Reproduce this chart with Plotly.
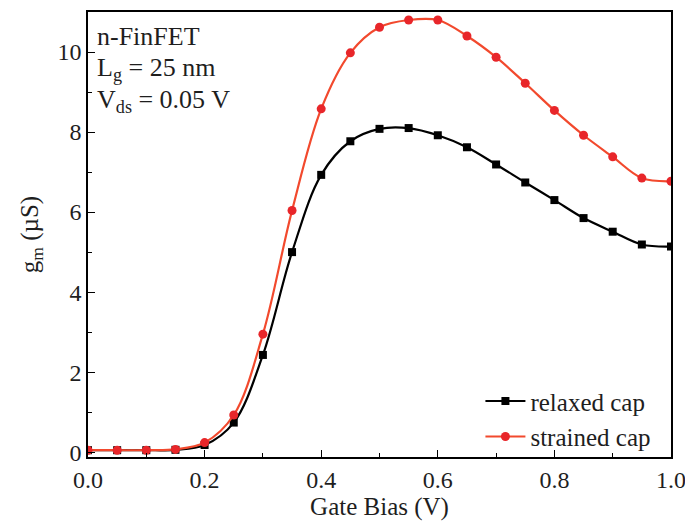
import plotly.graph_objects as go

gate_bias = [0.00, 0.05, 0.10, 0.15, 0.20, 0.25, 0.30, 0.35, 0.40, 0.45, 0.50,
             0.55, 0.60, 0.65, 0.70, 0.75, 0.80, 0.85, 0.90, 0.95, 1.00]
relaxed_gm = [0.05, 0.05, 0.05, 0.06, 0.18, 0.74, 2.43, 5.00, 6.93, 7.77, 8.08,
              8.10, 7.92, 7.62, 7.19, 6.74, 6.30, 5.85, 5.51, 5.19, 5.14]
strained_gm = [0.05, 0.05, 0.05, 0.07, 0.24, 0.93, 2.95, 6.04, 8.58, 9.98, 10.62,
               10.80, 10.80, 10.40, 9.87, 9.22, 8.54, 7.92, 7.38, 6.85, 6.77]

FONT = "Liberation Serif"
TEXT_COLOR = "#1e1e1e"

fig = go.Figure()
fig.add_trace(go.Scatter(
    x=gate_bias, y=relaxed_gm, name="relaxed cap", mode="lines+markers",
    line=dict(color="black", width=2.2, shape="spline", smoothing=1.0),
    marker=dict(symbol="square", size=8, color="black"),
))
fig.add_trace(go.Scatter(
    x=gate_bias, y=strained_gm, name="strained cap", mode="lines+markers",
    line=dict(color="#f2492d", width=2.2, shape="spline", smoothing=1.0),
    marker=dict(symbol="circle", size=9, color="#e8262a"),
))

axis_common = dict(
    showline=True, linecolor="black", linewidth=1.5, mirror=True,
    ticks="inside", ticklen=7, tickwidth=1.2, tickcolor="black",
    showgrid=False, zeroline=False, ticklabeloverflow="allow", automargin=False,
    tickfont=dict(family=FONT, size=24, color=TEXT_COLOR),
)

fig.update_xaxes(
    range=[0, 1.0], tickvals=[0, 0.2, 0.4, 0.6, 0.8, 1.0],
    ticktext=["0.0", "0.2", "0.4", "0.6", "0.8", "1.0"],
    minor=dict(dtick=0.1, ticks="inside", ticklen=4, tickcolor="black", showgrid=False),
    title=dict(text="Gate Bias (V)", font=dict(family=FONT, size=25, color=TEXT_COLOR), standoff=4),
    **axis_common,
)
fig.update_yaxes(
    range=[-0.12, 11.0], tickvals=[0, 2, 4, 6, 8, 10],
    minor=dict(dtick=1, ticks="inside", ticklen=4, tickcolor="black", showgrid=False),
    title=dict(text="g<sub>m</sub> (µS)", font=dict(family=FONT, size=25, color=TEXT_COLOR), standoff=12),
    **axis_common,
)

for text, y in [("n-FinFET", 0.944),
                ("L<sub>g</sub> = 25 nm", 0.872),
                ("V<sub>ds</sub> = 0.05 V", 0.800)]:
    fig.add_annotation(
        text=text, xref="paper", yref="paper", x=0.012, y=y,
        xanchor="left", yanchor="middle", showarrow=False,
        font=dict(family=FONT, size=26, color=TEXT_COLOR),
    )

fig.update_layout(
    width=685, height=524,
    margin=dict(l=88, r=14, t=12, b=67),
    paper_bgcolor="white", plot_bgcolor="white",
    legend=dict(
        x=0.975, y=-0.005, xanchor="right", yanchor="bottom",
        bgcolor="rgba(0,0,0,0)", font=dict(family=FONT, size=25, color=TEXT_COLOR),
        itemwidth=40, tracegroupgap=0,
    ),
)

fig.write_html("out.html")
